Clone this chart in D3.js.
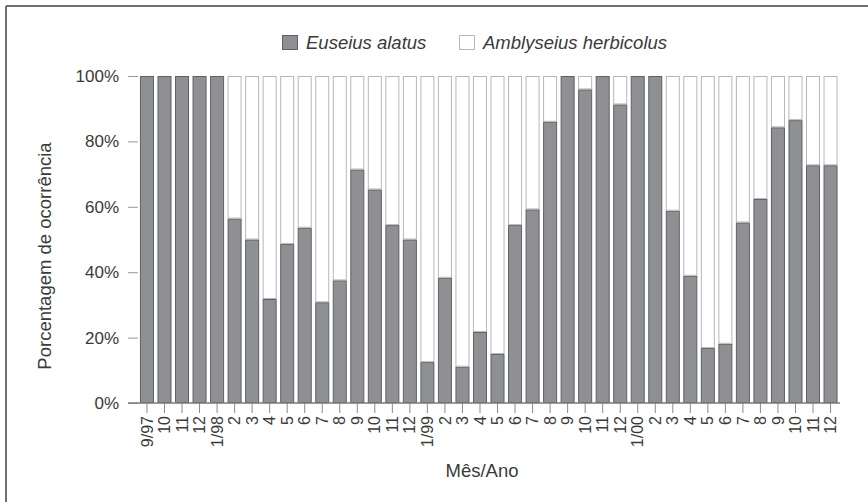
<!DOCTYPE html>
<html>
<head>
<meta charset="utf-8">
<script src="https://cdn.jsdelivr.net/npm/d3@7"></script>
<style>
  html, body { margin: 0; padding: 0; background: #fff; }
  svg { display: block; font-family: "Liberation Sans", Arial, sans-serif; }
</style>
</head>
<body>
<svg id="chart" width="868" height="502"></svg>
<script>
// Month/year labels along the x axis
const months = ["9/97","10","11","12","1/98","2","3","4","5","6","7","8","9","10","11","12",
                "1/99","2","3","4","5","6","7","8","9","10","11","12",
                "1/00","2","3","4","5","6","7","8","9","10","11","12"];
// Share of Euseius alatus (%) per month; the remainder is Amblyseius herbicolus
const euseius = [100,100,100,100,100,56.4,50,31.8,48.6,53.6,30.8,37.5,71.4,65.3,54.4,50,
                 12.5,38.3,11.1,21.7,15,54.4,59.2,86,100,95.9,100,91.3,
                 100,100,58.8,38.9,16.8,18.1,55.2,62.4,84.3,86.5,72.7,72.7];
const amblyseius = euseius.map(v => 100 - v);
const seriesNames = ["Euseius alatus", "Amblyseius herbicolus"];
const yTicks = [0, 20, 40, 60, 80, 100];

const svg = d3.select("#chart");
const textColor = "#3a3a3a";
const grayFill = "#8f9094", grayEdge = "#606165";
const whiteFill = "#ffffff", whiteEdge = "#b6b7ba";

// Frame lines
svg.append("line").attr("x1", 6).attr("x2", 868).attr("y1", 6).attr("y2", 6)
  .attr("stroke", "#707070").attr("stroke-width", 2);
svg.append("line").attr("x1", 6).attr("x2", 6).attr("y1", 6).attr("y2", 502)
  .attr("stroke", "#707070").attr("stroke-width", 2);

const axisLeftX = 128, axisRightX = 840;
const y = d3.scaleLinear().domain([0, 100]).range([403, 76]);
const x = d3.scaleBand().domain(d3.range(months.length))
  .range([138.2, 839.3]).paddingInner(0.2).paddingOuter(0.1);

const rows = months.map((m, i) => ({ i, a: euseius[i], b: amblyseius[i] }));
const stack = d3.stack().keys(["a", "b"])(rows);
const fills = [grayFill, whiteFill], edges = [grayEdge, whiteEdge];

svg.append("g").selectAll("g").data(stack).join("g")
  .attr("fill", (d, k) => fills[k])
  .attr("stroke", (d, k) => edges[k])
  .attr("stroke-width", 1)
  .selectAll("rect").data(d => d.filter(s => s[1] - s[0] > 0)).join("rect")
  .attr("x", d => x(d.data.i) + 0.5)
  .attr("width", x.bandwidth() - 1)
  .attr("y", d => y(d[1]) + 0.5)
  .attr("height", d => Math.max(0, y(d[0]) - y(d[1]) - 1));

// Y axis: short inward ticks, no spine
const yAxis = svg.append("g").attr("transform", `translate(${axisLeftX},0)`)
  .call(d3.axisLeft(y).tickValues(yTicks).tickSize(-10).tickPadding(9)
    .tickFormat(d => d + "%"));
yAxis.select(".domain").remove();
yAxis.selectAll(".tick line").attr("stroke", "#9a9a9a");
yAxis.selectAll("text").attr("fill", textColor).style("font-size", "17px");

// X axis baseline and ticks
const xAxis = svg.append("g").attr("transform", "translate(0,403)")
  .call(d3.axisBottom(x).tickSize(10).tickFormat(i => months[i]));
xAxis.select(".domain").remove();
xAxis.append("line").attr("x1", axisLeftX).attr("x2", axisRightX)
  .attr("stroke", "#7a7a7a").attr("stroke-width", 1.5);
xAxis.selectAll(".tick line").attr("stroke", "#8a8a8a");
xAxis.selectAll(".tick text")
  .attr("transform", "rotate(-90)")
  .attr("text-anchor", "end")
  .attr("x", -13).attr("y", 0).attr("dy", "0.35em")
  .attr("fill", textColor).style("font-size", "16px");

// Axis titles
svg.append("text").attr("x", 482).attr("y", 477).attr("text-anchor", "middle")
  .attr("fill", textColor).style("font-size", "18.5px").text("Mês/Ano");
svg.append("text").attr("transform", "translate(51,256) rotate(-90)")
  .attr("text-anchor", "middle").attr("fill", textColor)
  .style("font-size", "18.5px").text("Porcentagem de ocorrência");

// Legend
const legend = svg.append("g");
const legendItems = [
  { name: seriesNames[0], x: 282, fill: grayFill, edge: grayEdge },
  { name: seriesNames[1], x: 459, fill: whiteFill, edge: whiteEdge }
];
legendItems.forEach(it => {
  legend.append("rect").attr("x", it.x + 0.5).attr("y", 35.5).attr("width", 15).attr("height", 14)
    .attr("fill", it.fill).attr("stroke", it.edge);
  legend.append("text").attr("x", it.x + 24).attr("y", 49)
    .attr("fill", textColor).style("font-size", "18.5px").style("font-style", "italic")
    .text(it.name);
});
</script>
</body>
</html>
